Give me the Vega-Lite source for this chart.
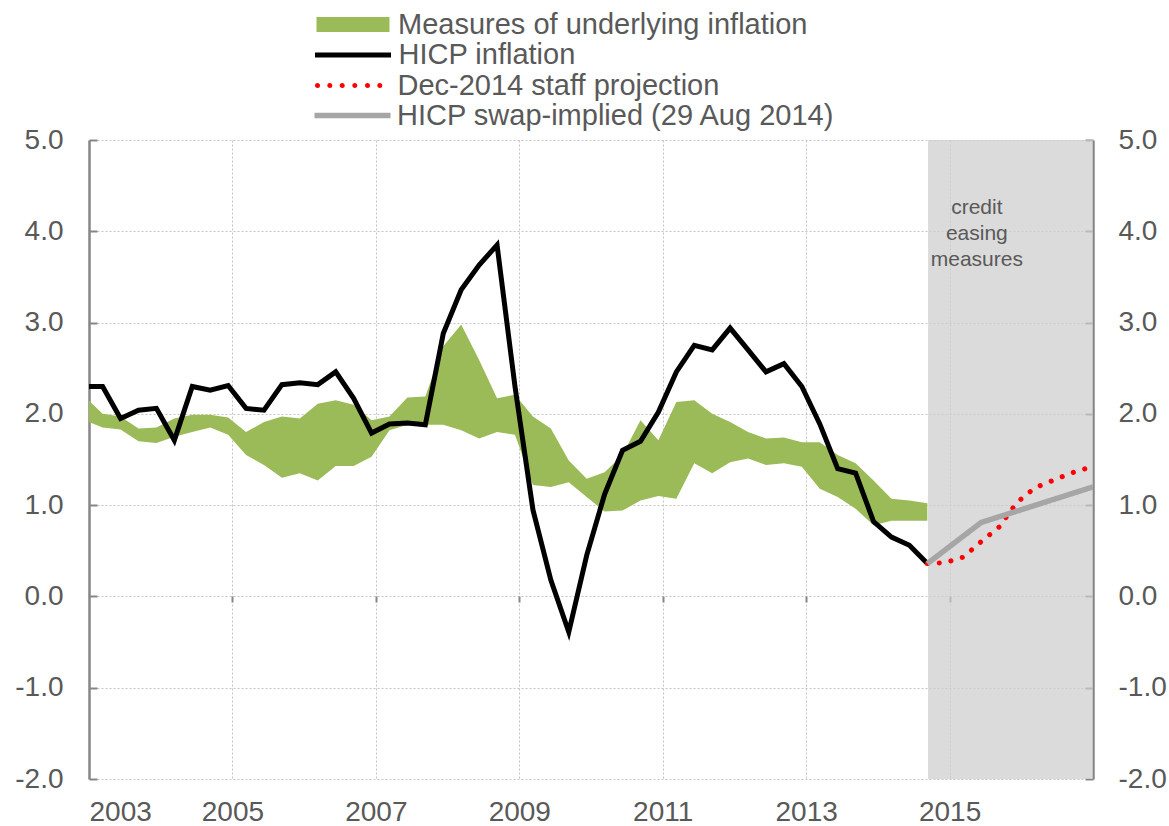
{
  "$schema": "https://vega.github.io/schema/vega-lite/v6.json",
  "width": 1004,
  "height": 639,
  "autosize": {"type": "none"},
  "padding": {"left": 89, "top": 140, "right": 76, "bottom": 47},
  "background": "white",
  "config": {"view": {"stroke": null}, "font": "Liberation Sans"},
  "datasets": {
    "shade": [{"start": 2014.7, "end": 2017}],
    "note": [{"label": "credit easing measures"}],
    "obs": [
      {"t": 2002.94, "hicp": 2.30, "lo": 1.93, "hi": 2.19},
      {"t": 2003.19, "hicp": 2.30, "lo": 1.85, "hi": 2.00},
      {"t": 2003.44, "hicp": 1.95, "lo": 1.83, "hi": 1.97},
      {"t": 2003.69, "hicp": 2.04, "lo": 1.70, "hi": 1.84},
      {"t": 2003.94, "hicp": 2.06, "lo": 1.68, "hi": 1.85},
      {"t": 2004.19, "hicp": 1.71, "lo": 1.75, "hi": 1.95},
      {"t": 2004.44, "hicp": 2.30, "lo": 1.80, "hi": 1.99},
      {"t": 2004.69, "hicp": 2.26, "lo": 1.85, "hi": 1.99},
      {"t": 2004.94, "hicp": 2.31, "lo": 1.77, "hi": 1.96},
      {"t": 2005.19, "hicp": 2.06, "lo": 1.55, "hi": 1.80},
      {"t": 2005.44, "hicp": 2.04, "lo": 1.44, "hi": 1.91},
      {"t": 2005.69, "hicp": 2.32, "lo": 1.30, "hi": 1.97},
      {"t": 2005.94, "hicp": 2.34, "lo": 1.35, "hi": 1.95},
      {"t": 2006.19, "hicp": 2.32, "lo": 1.27, "hi": 2.11},
      {"t": 2006.44, "hicp": 2.46, "lo": 1.43, "hi": 2.15},
      {"t": 2006.69, "hicp": 2.17, "lo": 1.43, "hi": 2.10},
      {"t": 2006.94, "hicp": 1.79, "lo": 1.53, "hi": 1.93},
      {"t": 2007.19, "hicp": 1.89, "lo": 1.82, "hi": 1.97},
      {"t": 2007.44, "hicp": 1.90, "lo": 1.88, "hi": 2.18},
      {"t": 2007.69, "hicp": 1.88, "lo": 1.88, "hi": 2.19},
      {"t": 2007.94, "hicp": 2.88, "lo": 1.88, "hi": 2.74},
      {"t": 2008.19, "hicp": 3.36, "lo": 1.82, "hi": 2.98},
      {"t": 2008.44, "hicp": 3.63, "lo": 1.73, "hi": 2.59},
      {"t": 2008.69, "hicp": 3.85, "lo": 1.80, "hi": 2.17},
      {"t": 2008.94, "hicp": 2.30, "lo": 1.77, "hi": 2.21},
      {"t": 2009.19, "hicp": 0.95, "lo": 1.22, "hi": 1.97},
      {"t": 2009.44, "hicp": 0.18, "lo": 1.20, "hi": 1.84},
      {"t": 2009.69, "hicp": -0.39, "lo": 1.25, "hi": 1.49},
      {"t": 2009.94, "hicp": 0.45, "lo": 1.09, "hi": 1.29},
      {"t": 2010.19, "hicp": 1.12, "lo": 0.93, "hi": 1.36},
      {"t": 2010.44, "hicp": 1.60, "lo": 0.94, "hi": 1.55},
      {"t": 2010.69, "hicp": 1.70, "lo": 1.05, "hi": 1.93},
      {"t": 2010.94, "hicp": 2.02, "lo": 1.10, "hi": 1.71},
      {"t": 2011.19, "hicp": 2.46, "lo": 1.07, "hi": 2.13},
      {"t": 2011.44, "hicp": 2.75, "lo": 1.46, "hi": 2.15},
      {"t": 2011.69, "hicp": 2.70, "lo": 1.35, "hi": 2.00},
      {"t": 2011.94, "hicp": 2.94, "lo": 1.47, "hi": 1.91},
      {"t": 2012.19, "hicp": 2.70, "lo": 1.51, "hi": 1.80},
      {"t": 2012.44, "hicp": 2.46, "lo": 1.44, "hi": 1.73},
      {"t": 2012.69, "hicp": 2.55, "lo": 1.46, "hi": 1.74},
      {"t": 2012.94, "hicp": 2.30, "lo": 1.42, "hi": 1.69},
      {"t": 2013.19, "hicp": 1.89, "lo": 1.18, "hi": 1.69},
      {"t": 2013.44, "hicp": 1.40, "lo": 1.09, "hi": 1.55},
      {"t": 2013.69, "hicp": 1.35, "lo": 0.96, "hi": 1.46},
      {"t": 2013.94, "hicp": 0.82, "lo": 0.78, "hi": 1.27},
      {"t": 2014.19, "hicp": 0.65, "lo": 0.83, "hi": 1.07},
      {"t": 2014.44, "hicp": 0.56, "lo": 0.83, "hi": 1.05},
      {"t": 2014.69, "hicp": 0.36, "lo": 0.83, "hi": 1.02}
    ],
    "proj": [
      {"t": 2014.69, "v": 0.36},
      {"t": 2014.94, "v": 0.37},
      {"t": 2015.19, "v": 0.43},
      {"t": 2015.44, "v": 0.60},
      {"t": 2015.69, "v": 0.76},
      {"t": 2015.94, "v": 1.03},
      {"t": 2016.19, "v": 1.19},
      {"t": 2016.44, "v": 1.27},
      {"t": 2016.69, "v": 1.35},
      {"t": 2016.94, "v": 1.41}
    ],
    "swap": [
      {"t": 2014.69, "v": 0.36},
      {"t": 2015.44, "v": 0.81},
      {"t": 2017.0, "v": 1.2}
    ]
  },
  "resolve": {"axis": {"x": "independent", "y": "independent"}},
  "layer": [
    {
      "data": {"name": "shade"},
      "mark": {"type": "rect", "fill": "#cdcdcd", "opacity": 0.72},
      "encoding": {
        "x": {
          "field": "start", "type": "quantitative",
          "scale": {"domain": [2003, 2017], "nice": false, "zero": false},
          "axis": {
            "orient": "bottom", "title": null, "values": [2003, 2005, 2007, 2009, 2011, 2013, 2015],
            "format": "d", "ticks": false, "domain": false, "labelPadding": 19,
            "labelFontSize": 28, "labelColor": "#595959", "labelFont": "Liberation Sans",
            "grid": true, "gridColor": "#c4c4c4", "gridDash": [2, 2], "gridWidth": 1
          }
        },
        "x2": {"field": "end"},
        "y": {"datum": -2, "type": "quantitative",
          "scale": {"domain": [-2, 5], "nice": false, "zero": false},
          "axis": {
            "orient": "left", "title": null, "values": [-2, -1, 0, 1, 2, 3, 4, 5],
            "labelExpr": "datum.value < 0 ? '-' + format(-datum.value, '.1f') : format(datum.value, '.1f')",
            "labelFontSize": 28, "labelColor": "#595959", "labelFont": "Liberation Sans",
            "domainColor": "#868686", "domainWidth": 2.5, "tickColor": "#868686", "tickWidth": 2,
            "tickSize": -8, "labelPadding": 34,
            "grid": true, "gridColor": "#c4c4c4", "gridDash": [2, 2], "gridWidth": 1
          }
        },
        "y2": {"datum": 5}
      }
    },
    {
      "data": {"name": "obs"},
      "mark": {"type": "area", "clip": true, "opacity": 1},
      "encoding": {
        "x": {"field": "t", "type": "quantitative", "scale": {"domain": [2003, 2017], "nice": false, "zero": false}, "axis": null},
        "y": {"field": "lo", "type": "quantitative", "scale": {"domain": [-2, 5], "nice": false, "zero": false}, "axis": null},
        "y2": {"field": "hi"},
        "fill": {
          "datum": "Measures of underlying inflation",
          "scale": {"range": ["#9BBB59"]},
          "legend": {
            "orient": "none", "legendX": 249.5, "legendY": -130, "title": null,
            "labelFontSize": 29, "labelColor": "#595959", "labelFont": "Liberation Sans", "labelLimit": 1000,
            "symbolSize": 400, "labelOffset": 30.5, "padding": 0,
            "symbolType": "M-3.65,-0.75H3.65V0.75H-3.65Z", "symbolOpacity": 1
          }
        }
      }
    },
    {
      "mark": {"type": "rule", "color": "#BFBFBF", "strokeWidth": 4.5, "strokeDash": [17, 8]},
      "encoding": {"y": {"datum": 2, "type": "quantitative", "scale": {"domain": [-2, 5], "nice": false, "zero": false}, "axis": null}}
    },
    {
      "mark": {"type": "rule", "color": "#868686", "strokeWidth": 2.5},
      "encoding": {"y": {"datum": 0, "type": "quantitative", "scale": {"domain": [-2, 5], "nice": false, "zero": false},
        "axis": {
          "orient": "right", "title": null, "values": [-2, -1, 0, 1, 2, 3, 4, 5],
          "labelExpr": "datum.value < 0 ? '-' + format(-datum.value, '.1f') : format(datum.value, '.1f')",
          "labelFontSize": 28, "labelColor": "#595959", "labelFont": "Liberation Sans",
          "domainColor": "#868686", "domainWidth": 2.5, "tickColor": "#868686", "tickWidth": 2,
          "tickSize": -8, "labelPadding": 33, "grid": false
        }}}
    },
    {
      "data": {"name": "obs"},
      "mark": {"type": "line", "clip": true, "strokeWidth": 5, "strokeJoin": "miter"},
      "encoding": {
        "x": {"field": "t", "type": "quantitative", "scale": {"domain": [2003, 2017], "nice": false, "zero": false},
          "axis": {"orient": "bottom", "offset": -183, "title": null, "values": [2005, 2007, 2009, 2011, 2013, 2015],
            "labels": false, "domain": false, "grid": false, "ticks": true, "tickSize": 6, "tickColor": "#868686", "tickWidth": 2}},
        "y": {"field": "hicp", "type": "quantitative", "scale": {"domain": [-2, 5], "nice": false, "zero": false}, "axis": null},
        "stroke": {
          "datum": "HICP inflation",
          "scale": {"range": ["#000000"]},
          "legend": {
            "orient": "none", "legendX": 249.5, "legendY": -99.5, "title": null,
            "labelFontSize": 29, "labelColor": "#595959", "labelFont": "Liberation Sans", "labelLimit": 1000,
            "symbolSize": 400, "labelOffset": 31, "padding": 0,
            "symbolType": "M-3.8,0H3.8", "symbolStrokeWidth": 4.8, "symbolOpacity": 1
          }
        }
      }
    },
    {
      "data": {"name": "proj"},
      "mark": {"type": "line", "clip": true, "strokeWidth": 5, "strokeDash": [0.1, 11.8], "strokeCap": "round"},
      "encoding": {
        "x": {"field": "t", "type": "quantitative", "scale": {"domain": [2003, 2017], "nice": false, "zero": false}, "axis": null},
        "y": {"field": "v", "type": "quantitative", "scale": {"domain": [-2, 5], "nice": false, "zero": false}, "axis": null},
        "color": {
          "datum": "Dec-2014 staff projection",
          "scale": {"range": ["#FF0000"]},
          "legend": {
            "orient": "none", "legendX": 250.5, "legendY": -69, "title": null,
            "labelFontSize": 29, "labelColor": "#595959", "labelFont": "Liberation Sans", "labelLimit": 1000,
            "symbolSize": 400, "labelOffset": 29, "padding": 0,
            "symbolType": "M-3.77,0a0.12,0.12 0 1,0 0.24,0a0.12,0.12 0 1,0 -0.24,0M-2.54,0a0.12,0.12 0 1,0 0.24,0a0.12,0.12 0 1,0 -0.24,0M-1.3,0a0.12,0.12 0 1,0 0.24,0a0.12,0.12 0 1,0 -0.24,0M-0.04,0a0.12,0.12 0 1,0 0.24,0a0.12,0.12 0 1,0 -0.24,0M1.23,0a0.12,0.12 0 1,0 0.24,0a0.12,0.12 0 1,0 -0.24,0M2.46,0a0.12,0.12 0 1,0 0.24,0a0.12,0.12 0 1,0 -0.24,0",
            "symbolStrokeWidth": 2.6, "symbolFillColor": "#FF0000", "symbolOpacity": 1
          }
        }
      }
    },
    {
      "data": {"name": "swap"},
      "mark": {"type": "line", "clip": true, "strokeWidth": 5.5, "color": "#A6A6A6"},
      "encoding": {
        "x": {"field": "t", "type": "quantitative", "scale": {"domain": [2003, 2017], "nice": false, "zero": false}, "axis": null},
        "y": {"field": "v", "type": "quantitative", "scale": {"domain": [-2, 5], "nice": false, "zero": false}, "axis": null},
        "strokeDash": {
          "datum": "HICP swap-implied (29 Aug 2014)",
          "scale": {"range": [[1, 0]]},
          "legend": {
            "orient": "none", "legendX": 249, "legendY": -39, "title": null,
            "labelFontSize": 29, "labelColor": "#595959", "labelFont": "Liberation Sans", "labelLimit": 1000,
            "symbolSize": 400, "labelOffset": 30, "padding": 0,
            "symbolType": "M-3.8,0H3.8", "symbolStrokeWidth": 5.5, "symbolStrokeColor": "#A6A6A6", "symbolOpacity": 1
          }
        }
      }
    },
    {
      "data": {"name": "note"},
      "mark": {"type": "text", "fontSize": 21, "color": "#595959", "lineBreak": " ",
        "lineHeight": 26, "align": "center", "baseline": "middle", "font": "Liberation Sans"},
      "encoding": {
        "x": {"datum": 2015.38, "type": "quantitative", "scale": {"domain": [2003, 2017], "nice": false, "zero": false}, "axis": null},
        "y": {"datum": 4.255, "type": "quantitative", "scale": {"domain": [-2, 5], "nice": false, "zero": false}, "axis": null},
        "text": {"field": "label"}
      }
    }
  ]
}
